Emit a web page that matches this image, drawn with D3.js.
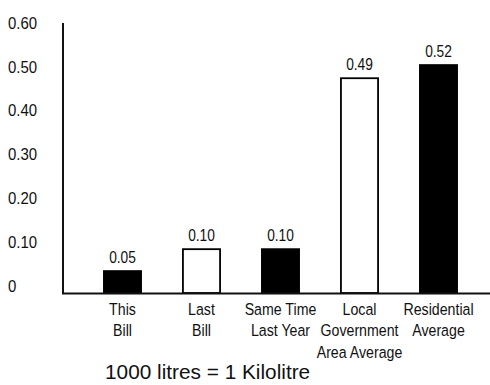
<!DOCTYPE html>
<html lang="en">
<head>
    <meta charset="UTF-8">
    <title>Water Usage Bar Chart</title>
    <script src="https://d3js.org/d3.v7.min.js"></script>
    <style>
        body { margin: 0; background: #fff; }
        text { font-family: "Liberation Sans", Arial, sans-serif; fill: #111; }
    </style>
</head>
<body>
    <div id="chart-container"></div>

    <script>
        // values (kilolitres per day)
        const categories = [
            ["This", "Bill"],
            ["Last", "Bill"],
            ["Same Time", "Last Year"],
            ["Local", "Government", "Area Average"],
            ["Residential", "Average"]
        ];
        const values = [0.05, 0.10, 0.10, 0.49, 0.52];
        const valueLabels = ["0.05", "0.10", "0.10", "0.49", "0.52"];
        const filled = [true, false, true, false, true];
        const yTicks = [0, 0.1, 0.2, 0.3, 0.4, 0.5, 0.6];
        const yTickLabels = ["0", "0.10", "0.20", "0.30", "0.40", "0.50", "0.60"];
        const footnote = "1000 litres = 1 Kilolitre";

        const containerWidth = 490;
        const containerHeight = 385;
        const narrow = 0.86; // horizontal squeeze to fake a condensed face

        const svg = d3.select("#chart-container")
            .append("svg")
            .attr("width", containerWidth)
            .attr("height", containerHeight);

        // scales
        const x = d3.scaleBand()
            .domain(d3.range(values.length))
            .range([83, 478])
            .paddingInner(0.53)
            .paddingOuter(0.265);

        const y = d3.scaleLinear()
            .domain([0, 0.6])
            .range([293, 30]);

        // y tick labels (left aligned, no tick marks)
        const yAxis = svg.append("g")
            .attr("transform", "translate(63,0)")
            .call(d3.axisLeft(y)
                .tickValues(yTicks)
                .tickSize(0)
                .tickFormat((d, i) => yTickLabels[i]));
        yAxis.select(".domain").remove();
        yAxis.selectAll("text")
            .attr("x", 0)
            .attr("dy", "-0.1em")
            .attr("text-anchor", "start")
            .attr("transform", `translate(-55,0) scale(0.88,1)`)
            .style("font-family", "\"Liberation Sans\", Arial, sans-serif")
            .style("font-size", "17px")
            .style("fill", "#111");

        // bars
        svg.selectAll(".bar")
            .data(values)
            .join("rect")
            .attr("class", "bar")
            .attr("x", (d, i) => x(i))
            .attr("y", d => y(d))
            .attr("width", x.bandwidth())
            .attr("height", d => y(0) - y(d))
            .attr("fill", (d, i) => filled[i] ? "#000" : "#fff")
            .attr("stroke", "#000")
            .attr("stroke-width", 1.8);

        // value labels
        svg.selectAll(".val")
            .data(values)
            .join("text")
            .attr("class", "val")
            .attr("text-anchor", "middle")
            .attr("transform", (d, i) => `translate(${x(i) + x.bandwidth() / 2},${y(d) - 8}) scale(${narrow},1)`)
            .style("font-size", "16px")
            .text((d, i) => valueLabels[i]);

        // axis lines
        svg.append("line")
            .attr("x1", 63).attr("x2", 63)
            .attr("y1", 23).attr("y2", y(0) + 1)
            .attr("stroke", "#111").attr("stroke-width", 2);
        svg.append("line")
            .attr("x1", 62).attr("x2", 490)
            .attr("y1", y(0) + 0.5).attr("y2", y(0) + 0.5)
            .attr("stroke", "#111").attr("stroke-width", 2);

        // category labels
        const cat = svg.selectAll(".cat")
            .data(categories)
            .join("text")
            .attr("class", "cat")
            .attr("text-anchor", "middle")
            .style("font-size", "16.5px")
            .attr("transform", (d, i) => `translate(${x(i) + x.bandwidth() / 2},315) scale(${narrow},1)`);
        cat.selectAll("tspan")
            .data(d => d)
            .join("tspan")
            .attr("x", 0)
            .attr("y", (d, j) => j * 21.5)
            .text(d => d);

        // footnote
        svg.append("text")
            .attr("x", 105)
            .attr("y", 379)
            .style("font-size", "20.8px")
            .text(footnote);
    </script>
</body>
</html>
